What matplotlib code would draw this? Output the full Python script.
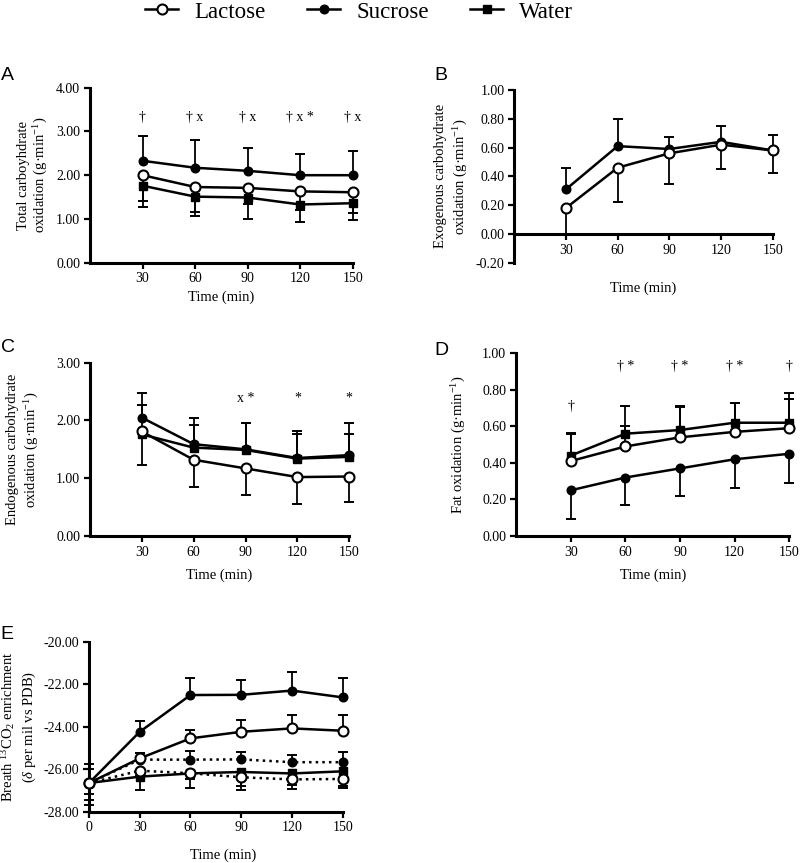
import matplotlib
matplotlib.use("Agg")
import matplotlib.pyplot as plt
import numpy as np
from matplotlib.ticker import FormatStrFormatter
from matplotlib.lines import Line2D

plt.rcParams['font.family'] = ['Liberation Serif', 'DejaVu Serif']
plt.rcParams['mathtext.fontset'] = 'custom'
plt.rcParams['mathtext.rm'] = 'Liberation Serif'
plt.rcParams['mathtext.it'] = 'Liberation Serif:italic'
plt.rcParams['mathtext.bf'] = 'Liberation Serif:bold'

# ---------------- data ----------------
time = [30, 60, 90, 120, 150]
time_e = [0, 30, 60, 90, 120, 150]

# Panel A: total carbohydrate oxidation (signed error: + up, - down)
a_lactose = [2.00, 1.73, 1.71, 1.63, 1.61]
a_lactose_err = [-0.60, -0.56, -0.37, -0.43, -0.47]
a_sucrose = [2.33, 2.17, 2.10, 2.00, 2.00]
a_sucrose_err = [0.57, 0.63, 0.52, 0.48, 0.56]
a_water = [1.76, 1.51, 1.49, 1.33, 1.36]
a_water_err = [-0.48, -0.44, -0.48, -0.39, -0.38]
a_marks = ["†", "† x", "† x", "† x *", "† x"]

# Panel B: exogenous carbohydrate oxidation
b_lactose = [0.18, 0.46, 0.56, 0.62, 0.58]
b_lactose_err = [-0.19, -0.24, -0.21, -0.17, -0.16]
b_sucrose = [0.31, 0.61, 0.59, 0.64, 0.58]
b_sucrose_err = [0.15, 0.19, 0.08, 0.11, 0.11]

# Panel C: endogenous carbohydrate oxidation
c_lactose = [1.81, 1.32, 1.17, 1.02, 1.03]
c_lactose_err = [-0.58, -0.48, -0.46, -0.46, -0.45]
c_sucrose = [2.05, 1.59, 1.50, 1.35, 1.40]
c_sucrose_err = [0.43, 0.45, 0.46, 0.46, 0.55]
c_water = [1.76, 1.53, 1.49, 1.34, 1.37]
c_water_err = [0.50, 0.40, 0.46, 0.43, 0.39]
c_marks = ["", "", "x *", "*", "*"]

# Panel D: fat oxidation
d_lactose = [0.41, 0.49, 0.54, 0.57, 0.59]
d_lactose_err = [0.15, 0.11, 0.17, 0.16, 0.16]
d_sucrose = [0.25, 0.32, 0.37, 0.42, 0.45]
d_sucrose_err = [-0.155, -0.15, -0.15, -0.16, -0.16]
d_water = [0.44, 0.56, 0.58, 0.62, 0.62]
d_water_err = [0.125, 0.15, 0.125, 0.11, 0.16]
d_marks = ["†", "† *", "† *", "† *", "†"]

# Panel E: breath 13CO2 enrichment
e_sucrose = [-26.65, -24.24, -22.51, -22.50, -22.30, -22.62]
e_sucrose_err = [0.88, 0.51, 0.78, 0.68, 0.87, 0.89]
e_lactose = [-26.65, -25.49, -24.55, -24.24, -24.08, -24.19]
e_lactose_err = [-0.50, 0.27, 0.39, 0.55, 0.63, 0.74]
e_sucrose_dot = [-26.65, -25.55, -25.55, -25.54, -25.67, -25.67]
e_sucrose_dot_err = [0.66, 0.30, 0.42, 0.36, 0.34, 0.47]
e_lactose_dot = [-26.65, -26.07, -26.19, -26.38, -26.48, -26.46]
e_lactose_dot_err = [-0.80, -0.25, -0.25, -0.60, -0.47, -0.44]
e_water = [-26.65, -26.35, -26.20, -26.13, -26.20, -26.10]
e_water_err = [-1.05, -0.63, -0.70, -0.67, -0.54, -0.70]

# ---------------- figure ----------------
W, H = 800, 863
fig = plt.figure(figsize=(W / 100, H / 100), dpi=100)


def add_ax(left, right, top, bottom):
    return fig.add_axes([left / W, 1 - bottom / H, (right - left) / W, (bottom - top) / H])


STYLE = {
    'lactose': dict(marker='o', ms=7.2, mfc='white', mew=1.5),
    'sucrose': dict(marker='o', ms=6.2, mfc='black', mew=1.0),
    'water': dict(marker='s', ms=6.0, mfc='black', mew=1.0),
}


def series(ax, x, mean, err, kind, ls='-', z=3):
    x = np.asarray(x, float)
    mean = np.asarray(mean, float)
    end = mean + np.asarray(err, float)
    ax.vlines(x, mean, end, colors='black', lw=1.3, zorder=2, clip_on=False)
    ax.plot(x, end, ls='none', marker='_', ms=7, mew=1.4, color='black', zorder=2, clip_on=False)
    ax.plot(x, mean, ls=ls, color='black', lw=1.8, mec='black', zorder=z,
            clip_on=False, **STYLE[kind])


def style(ax, xlim, ylim, xticks, yticks):
    ax.set_xlim(*xlim)
    ax.set_ylim(*ylim)
    ax.set_xticks(xticks)
    ax.set_yticks(yticks)
    ax.yaxis.set_major_formatter(FormatStrFormatter('%.2f'))
    for s in ['top', 'right']:
        ax.spines[s].set_visible(False)
    for s in ['left', 'bottom']:
        ax.spines[s].set_linewidth(2.2)
    ax.tick_params(direction='out', length=4, width=1.6, labelsize=10, pad=3)


def labels(ax, ylab, ylx, xly, xlx=0.5, ls=1.3):
    ax.set_ylabel(ylab, fontsize=10.5, linespacing=ls)
    ax.yaxis.label.set_va('center')
    ax.yaxis.set_label_coords(ylx, 0.5)
    ax.set_xlabel('Time (min)', fontsize=10.5)
    ax.xaxis.label.set_va('center')
    ax.xaxis.set_label_coords(xlx, xly)


def marks(ax, x, txt, y):
    for xi, t in zip(x, txt):
        if t:
            ax.text(xi, y, t, ha='center', va='center', fontsize=10)


# Panel A
axA = add_ax(90, 352.7, 87.7, 262.7)
style(axA, (0, 150), (0, 4), time, [0, 1, 2, 3, 4])
series(axA, time, a_sucrose, a_sucrose_err, 'sucrose', z=3)
series(axA, time, a_water, a_water_err, 'water', z=4)
series(axA, time, a_lactose, a_lactose_err, 'lactose', z=5)
marks(axA, time, a_marks, 3.33)
labels(axA, 'Total carboyhdrate\noxidation (g·min$^{-1}$)', -0.215, -0.196, ls=1.2)

# Panel B
axB = add_ax(514.3, 772.7, 90, 262.7)
style(axB, (0, 150), (-0.2, 1.0), time, [-0.2, 0, 0.2, 0.4, 0.6, 0.8, 1.0])
axB.spines['bottom'].set_position(('data', 0))
series(axB, time, b_sucrose, b_sucrose_err, 'sucrose', z=3)
series(axB, time, b_lactose, b_lactose_err, 'lactose', z=5)
labels(axB, 'Exogenous carbohydrate\noxidation (g·min$^{-1}$)', -0.241, -0.146)

# Panel C
axC = add_ax(89.8, 349.3, 362.7, 536)
style(axC, (0, 150), (0, 3), time, [0, 1, 2, 3])
series(axC, time, c_sucrose, c_sucrose_err, 'sucrose', z=3)
series(axC, time, c_water, c_water_err, 'water', z=4)
series(axC, time, c_lactose, c_lactose_err, 'lactose', z=5)
marks(axC, time, c_marks, 2.38)
labels(axC, 'Endogenous carbohydrate\noxidation (g·min$^{-1}$)', -0.257, -0.225)

# Panel D
axD = add_ax(516, 789.3, 353.3, 536)
style(axD, (0, 150), (0, 1), time, [0, 0.2, 0.4, 0.6, 0.8, 1.0])
series(axD, time, d_sucrose, d_sucrose_err, 'sucrose', z=3)
series(axD, time, d_water, d_water_err, 'water', z=4)
series(axD, time, d_lactose, d_lactose_err, 'lactose', z=5)
marks(axD, time[:1], d_marks[:1], 0.71)
marks(axD, time[1:], d_marks[1:], 0.93)
labels(axD, 'Fat oxidation (g·min$^{-1}$)', -0.209, -0.213)

# Panel E
axE = add_ax(89, 342.7, 641.7, 811.7)
style(axE, (0, 150), (-28, -20), time_e, [-28, -26, -24, -22, -20])
series(axE, time_e, e_water, e_water_err, 'water', z=3)
series(axE, time_e, e_sucrose_dot, e_sucrose_dot_err, 'sucrose', ls=':', z=3.2)
series(axE, time_e, e_lactose_dot, e_lactose_dot_err, 'lactose', ls=':', z=3.4)
series(axE, time_e, e_sucrose, e_sucrose_err, 'sucrose', z=3.6)
series(axE, time_e, e_lactose, e_lactose_err, 'lactose', z=3.8)
labels(axE, 'Breath $^{13}$CO$_2$ enrichment\n($\\delta$ per mil vs PDB)', -0.279, -0.255, xlx=0.53)

# Panel letters
for lab, (px, py) in zip('ABCDE', [(1, 76), (434, 76), (1, 348), (434, 350), (0, 634)]):
    fig.text(px / W, 1 - py / H, lab, fontsize=14, family='Liberation Sans',
             ha='left', va='center')

# Legend
handles = [Line2D([], [], color='black', lw=1.8, mec='black', **STYLE[k])
           for k in ['lactose', 'sucrose', 'water']]
fig.legend(handles, ['Lactose', 'Sucrose', 'Water'], loc='center',
           bbox_to_anchor=(0.449, 1 - 12 / H), ncol=3, frameon=False,
           fontsize=16.5, handlelength=1.45, handletextpad=0.7, columnspacing=1.8,
           borderpad=0, borderaxespad=0)

fig.savefig('out.png', dpi=100)
